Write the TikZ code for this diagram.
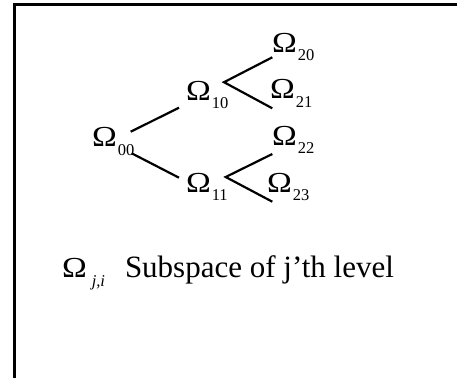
\documentclass[tikz,border=0pt]{standalone}
\usepackage{fontspec}
\setmainfont{Liberation Serif}
\begin{document}
\begin{tikzpicture}[x=1pt,y=-1pt]
\tikzset{
  lbl/.style={anchor=base west, inner sep=0pt, outer sep=0pt},
  conn/.style={line width=2.2pt},
  frameline/.style={line width=2.2pt}
}
\newcommand{\bigom}{\scalebox{1.15}[1]{\fontsize{29}{29}\selectfont Ω}}
\newcommand{\omlbl}[2]{\bigom\kern1pt\raisebox{-#2pt}{\fontsize{16.5}{16.5}\selectfont #1}}
\useasboundingbox (0,0) rectangle (457,378);
\draw[frameline] (14.5,378) -- (14.5,4.5) -- (457,4.5);
% labels
\node[lbl] (n00) at (92,146) {\omlbl{00}{9}};
\node[lbl] (n10) at (186,100) {\omlbl{10}{8}};
\node[lbl] (n11) at (186,192) {\omlbl{11}{8}};
\node[lbl] (n20) at (272,52) {\omlbl{20}{8}};
\node[lbl] (n21) at (270,98) {\omlbl{21}{9}};
\node[lbl] (n22) at (272,145) {\omlbl{22}{8}};
\node[lbl] (n23) at (267,192) {\omlbl{23}{8}};
% connector ends
\coordinate (a00u) at (130.7,131.7);
\coordinate (a00d) at (131.7,153.3);
\coordinate (a10in) at (179,107.7);
\coordinate (a11in) at (179,177.7);
\coordinate (a10out) at (224,82.2);
\coordinate (a11out) at (225.7,177);
\coordinate (a20) at (272.3,57.3);
\coordinate (a21) at (272.3,108.3);
\coordinate (a22) at (272.3,154);
\coordinate (a23) at (272.3,201.7);
\draw[conn] (a00u) -- (a10in);
\draw[conn] (a00d) -- (a11in);
\draw[conn] (a20) -- (a10out) -- (a21);
\draw[conn] (a22) -- (a11out) -- (a23);
% legend
\node[lbl] (leg) at (62,277) {\bigom\kern5pt\raisebox{-9pt}{\fontsize{16.5}{16.5}\selectfont\itshape j,i}};
\node[lbl] (legtxt) at (125,277) {\fontsize{31}{31}\selectfont Subspace of j’th level};
\end{tikzpicture}
\end{document}
